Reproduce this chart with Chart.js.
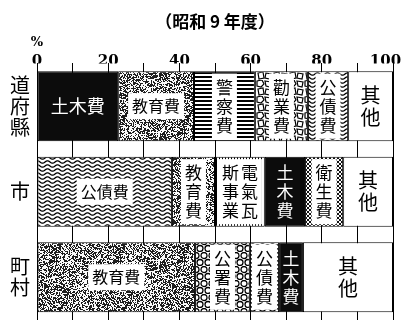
<!DOCTYPE html>
<html><head><meta charset="utf-8">
<script src="https://cdn.jsdelivr.net/npm/chart.js@4"></script>
<style>html,body{margin:0;padding:0;background:#fff}canvas{display:block}</style>
</head><body>
<canvas id="c" width="405" height="320"></canvas>
<script>
// ---- data ----
const categories = [['道','府','縣'], ['市'], ['町','村']];
const prefItems  = ['土木費','教育費','警察費','勸業費','公債費','其他'];
const prefValues = [22.8, 21.3, 17.1, 14.9, 11.3, 12.6];
const cityItems  = ['公債費','教育費','電氣瓦斯事業','土木費','衛生費','其他'];
const cityValues = [37.9, 12.1, 14.0, 11.3, 10.7, 14.0];
const townItems  = ['教育費','公署費','公債費','土木費','其他'];
const townValues = [44.4, 15.4, 8.2, 6.7, 25.3];
const xTickLabels = [0, 20, 40, 60, 80, 100];
const titleText = '（昭和 9 年度）';
const unitText = '%';

const rowItems = [prefItems, cityItems, townItems];
const rowValues = [prefValues, cityValues, townValues];

// ---- patterns ----
const canvas = document.getElementById('c');
const mainCtx = canvas.getContext('2d');
function tile(w, h, draw) {
  const c = document.createElement('canvas'); c.width = w; c.height = h;
  const g = c.getContext('2d'); g.fillStyle = '#fff'; g.fillRect(0, 0, w, h);
  draw(g, w, h);
  return mainCtx.createPattern(c, 'repeat');
}
function hash(x, y, s) {
  let h = Math.imul(x, 374761393) ^ Math.imul(y, 668265263) ^ Math.imul(s, 982451653);
  h = Math.imul(h ^ (h >>> 13), 1274126177);
  h ^= h >>> 16;
  return (h >>> 0) / 4294967296;
}
function noiseTile(size, thr, seed, dark) {
  return tile(size, size, (g, w, h) => {
    const img = g.getImageData(0, 0, w, h);
    for (let y = 0; y < h; y++) for (let x = 0; x < w; x++) {
      const v = 0.72 * hash(x, y, seed) + 0.18 * hash(x >> 2, y >> 2, seed + 1) + 0.1 * hash(x >> 3, y >> 3, seed + 2);
      const k = (y * w + x) * 4;
      const val = v < thr ? dark : 250;
      img.data[k] = img.data[k + 1] = img.data[k + 2] = val; img.data[k + 3] = 255;
    }
    g.putImageData(img, 0, 0);
  });
}
const fills = {
  black: '#0c0c0c',
  speckle: noiseTile(64, 0.5, 7, 30),
  stripes: tile(1, 4, g => { g.fillStyle = '#000'; g.fillRect(0, 0, 1, 2); }),
  wavy: tile(10, 4, g => {
    g.strokeStyle = '#000'; g.lineWidth = 1.3; g.beginPath();
    for (let x = -1; x <= 11; x += 0.5) { const y = 2 + 1.2 * Math.sin(x / 10 * 2 * Math.PI); x === -1 ? g.moveTo(x, y) : g.lineTo(x, y); }
    g.stroke();
  }),
  rocky: tile(16, 16, g => {
    g.strokeStyle = '#000'; g.lineWidth = 1.2;
    const polys = [[[1,1],[6,0],[8,4],[5,7],[1,6]], [[9,1],[15,2],[14,7],[10,6]], [[2,9],[7,8],[8,14],[3,15]], [[10,9],[15,10],[14,15],[9,14]]];
    polys.forEach(p => { g.beginPath(); p.forEach((q, i) => i ? g.lineTo(q[0], q[1]) : g.moveTo(q[0], q[1])); g.closePath(); g.stroke(); });
  }),
  vhatch: tile(3, 1, g => { g.fillStyle = '#000'; g.fillRect(0, 0, 1, 1); }),
  cross: tile(4, 4, g => {
    g.fillStyle = '#111';
    [[0,0],[1,1],[2,2],[3,3],[3,0],[2,1],[1,2],[0,3]].forEach(p => g.fillRect(p[0], p[1], 1, 1));
  }),
  circles: tile(8, 14, g => {
    g.strokeStyle = '#000'; g.lineWidth = 1.3;
    [[4,3.5],[0,10.5],[8,10.5]].forEach(p => { g.beginPath(); g.arc(p[0], p[1], 3, 0, Math.PI * 2); g.stroke(); });
  }),
  white: '#ffffff'
};
const fillKey = { '土木費':'black', '教育費':'speckle', '警察費':'stripes', '勸業費':'rocky', '公債費':'wavy',
  '電氣瓦斯事業':'vhatch', '衛生費':'cross', '公署費':'circles', '其他':'white' };
function kindOf(item) { const k = fillKey[item]; return k === 'black' ? 'black' : (k === 'white' ? 'white' : 'pattern'); }

const nSeg = Math.max(...rowItems.map(r => r.length));
const datasets = [];
for (let i = 0; i < nSeg; i++) {
  datasets.push({
    data: rowValues.map(v => (v[i] === undefined ? null : v[i])),
    backgroundColor: ctx => {
      const it = ctx.dataIndex !== undefined && rowItems[ctx.dataIndex] ? rowItems[ctx.dataIndex][i] : undefined;
      return it ? fills[fillKey[it]] : '#fff';
    },
    borderColor: '#000', borderWidth: 1, borderSkipped: false,
    barPercentage: 0.818, categoryPercentage: 1
  });
}

const CJK = "'Noto Sans CJK JP', sans-serif";
function drawLabel(ctx, item, left, w, cy, h) {
  const kind = kindOf(item);
  const horiz = item !== '其他' && w >= 70;
  const cx = left + w / 2;
  ctx.save();
  ctx.textAlign = 'center'; ctx.textBaseline = 'middle';
  if (horiz) {
    const fs = kind === 'black' ? 18 : 16;
    ctx.font = fs + 'px ' + CJK;
    const tw = ctx.measureText(item).width;
    if (kind === 'pattern') { ctx.fillStyle = '#fff'; ctx.fillRect(cx - tw / 2 - 4, cy - fs / 2 - 5, tw + 8, fs + 10); }
    ctx.fillStyle = kind === 'black' ? '#fff' : '#000';
    ctx.fillText(item, cx, cy);
  } else {
    const chars = [...item];
    const cols = chars.length > 4 ? 2 : 1;
    const perCol = Math.ceil(chars.length / cols);
    const fs = item === '其他' ? 20 : Math.min(17, (w - 6) / cols - 1);
    const pitch = fs * 1.12, colW = fs + 2;
    const boxW = cols * colW + 6, boxH = Math.min(perCol * pitch + 8, h - 4);
    if (kind === 'pattern') { ctx.fillStyle = '#fff'; ctx.fillRect(cx - boxW / 2, cy - boxH / 2, boxW, boxH); }
    ctx.font = fs + 'px ' + CJK;
    ctx.fillStyle = kind === 'black' ? '#fff' : '#000';
    for (let c = 0; c < cols; c++) {
      const colX = cx + (cols - 1) / 2 * colW - c * colW;
      for (let k = 0; k < perCol; k++) {
        const ch = chars[c * perCol + k]; if (!ch) continue;
        ctx.fillText(ch, colX, cy - (perCol - 1) / 2 * pitch + k * pitch);
      }
    }
  }
  ctx.restore();
}

const labelPlugin = {
  id: 'segLabels',
  afterDatasetsDraw(chart) {
    const ctx = chart.ctx;
    chart.data.datasets.forEach((ds, i) => {
      const meta = chart.getDatasetMeta(i);
      meta.data.forEach((el, j) => {
        const item = rowItems[j][i];
        if (!item) return;
        const p = el.getProps(['x', 'base', 'y', 'height'], true);
        drawLabel(ctx, item, Math.min(p.x, p.base), Math.abs(p.x - p.base), p.y, p.height);
      });
    });
  },
  afterDraw(chart) {
    const ctx = chart.ctx, xs = chart.scales.x;
    ctx.save();
    ctx.font = 'bold 13px "DejaVu Serif"';
    ctx.fillStyle = '#000'; ctx.textAlign = 'center'; ctx.textBaseline = 'middle';
    ctx.fillText(unitText, xs.getPixelForValue(0), 43);
    ctx.restore();
  }
};

new Chart(canvas, {
  type: 'bar',
  data: { labels: categories, datasets },
  options: {
    indexAxis: 'y', responsive: false, animation: false,
    layout: { padding: { left: 0, right: 12, top: 0, bottom: -6 } },
    plugins: {
      legend: { display: false }, tooltip: { enabled: false },
      title: { display: true, text: titleText, fullSize: false, color: '#000',
        font: { family: CJK, size: 17, weight: 'bold' }, padding: { top: 11, bottom: 0 } }
    },
    scales: {
      x: {
        position: 'top', stacked: true, min: 0, max: 100,
        afterFit: s => { s.height = 32; s.paddingLeft = 0; s.paddingRight = 0; },
        grid: { color: '#000', lineWidth: 1, drawTicks: false },
        border: { display: false },
        ticks: { stepSize: 10, autoSkip: false, maxRotation: 0, padding: -7, color: '#000',
          font: { family: 'DejaVu Serif', size: 15, weight: 'bold' },
          callback: v => xTickLabels.includes(v) ? (v === 100 ? String(v) + '\u2003' : String(v)) : '' }
      },
      y: {
        stacked: true,
        afterFit: s => { s.width = 37; s.paddingTop = 0; s.paddingBottom = -6; },
        grid: { display: false, drawTicks: false }, border: { display: false },
        ticks: { color: '#000', crossAlign: 'center', padding: 7,
          font: { family: CJK, size: 20, lineHeight: 1.05 } }
      }
    }
  },
  plugins: [labelPlugin]
});
</script>
</body></html>
